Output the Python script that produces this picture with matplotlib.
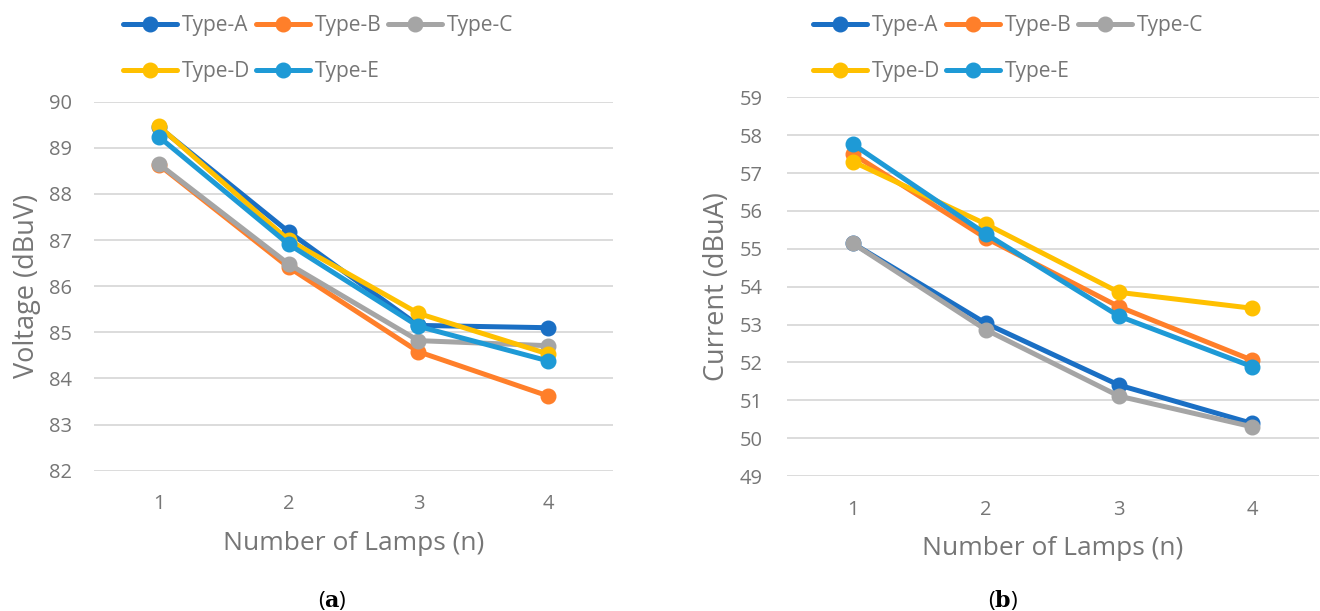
import numpy as np
import matplotlib
matplotlib.use("Agg")
import matplotlib.pyplot as plt

plt.rcParams['font.family'] = ['Open Sans', 'DejaVu Sans']
plt.rcParams['mathtext.fontset'] = 'dejavuserif'

# data
lamps = [1, 2, 3, 4]
series_names = ["Type-A", "Type-B", "Type-C", "Type-D", "Type-E"]

voltage_a = [89.45, 87.18, 85.15, 85.10]
voltage_b = [88.63, 86.41, 84.58, 83.62]
voltage_c = [88.65, 86.48, 84.82, 84.71]
voltage_d = [89.47, 87.00, 85.41, 84.53]
voltage_e = [89.24, 86.91, 85.13, 84.38]

current_a = [55.14, 53.03, 51.40, 50.39]
current_b = [57.50, 55.28, 53.47, 52.06]
current_c = [55.14, 52.86, 51.11, 50.30]
current_d = [57.30, 55.65, 53.85, 53.43]
current_e = [57.76, 55.39, 53.22, 51.89]

voltage = [voltage_a, voltage_b, voltage_c, voltage_d, voltage_e]
current = [current_a, current_b, current_c, current_d, current_e]

colors = ['#1A6FC4', '#FF7F2A', '#A5A5A5', '#FFC000', '#1E9AD6']
text_grey = '#767676'
grid_grey = '#D9D9D9'

W, H = 1320, 611
fig = plt.figure(figsize=(W / 100, H / 100), dpi=100)


def px_axes(left, right, top, bottom):
    # pixel box -> figure fraction
    return fig.add_axes([left / W, 1 - bottom / H, (right - left) / W, (bottom - top) / H])


def draw_panel(ax, data, ylo, yhi, ylabel, label_off, tick_pad):
    for vals, name, c in zip(data, series_names, colors):
        ax.plot(lamps, vals, color=c, lw=3.6, marker='o', ms=10.5,
                solid_capstyle='round', label=name, zorder=3)
    ax.set_xlim(0.5, 4.5)
    ax.set_ylim(ylo, yhi)
    ax.set_yticks(np.arange(ylo, yhi + 1, 1))
    ax.set_xticks(lamps)
    ax.grid(axis='y', color=grid_grey, lw=1.3)
    ax.set_axisbelow(True)
    for s in ax.spines.values():
        s.set_visible(False)
    ax.tick_params(length=0, labelsize=14.5, labelcolor=text_grey)
    ax.tick_params(axis='y', pad=tick_pad)
    ax.tick_params(axis='x', pad=17)
    ax.set_xlabel("Number of Lamps (n)", fontsize=19, color=text_grey, labelpad=12)
    ax.set_ylabel(ylabel, fontsize=19.5, color=text_grey, va='center')
    ax.yaxis.set_label_coords(label_off, 0.5)


ax1 = px_axes(94, 613, 101.7, 470.7)
draw_panel(ax1, voltage, 82, 90, "Voltage (dBuV)", -67 / 519, 16)

ax2 = px_axes(786.5, 1318.5, 97.3, 476)
draw_panel(ax2, current, 49, 59, "Current (dBuA)", -69.5 / 532, 17)

# legends, row-wise order A B C / D E
order = [0, 3, 1, 4, 2]
for ax, x0 in [(ax1, 123), (ax2, 813)]:
    h, l = ax.get_legend_handles_labels()
    ax.legend([h[i] for i in order], [l[i] for i in order], ncol=3,
              loc='upper left', bbox_to_anchor=(x0 / W, 1 - 15 / H),
              bbox_transform=fig.transFigure, frameon=False, fontsize=15,
              labelcolor=text_grey, handlelength=2.6, handletextpad=0.22,
              columnspacing=0.3, labelspacing=1.2, borderpad=0, borderaxespad=0)

fig.text(332 / W, 1 - 600 / H, r'($\mathbf{a}$)', ha='center', va='center', fontsize=16)
fig.text(1003 / W, 1 - 600 / H, r'($\mathbf{b}$)', ha='center', va='center', fontsize=16)

fig.savefig("out.png", dpi=100)
